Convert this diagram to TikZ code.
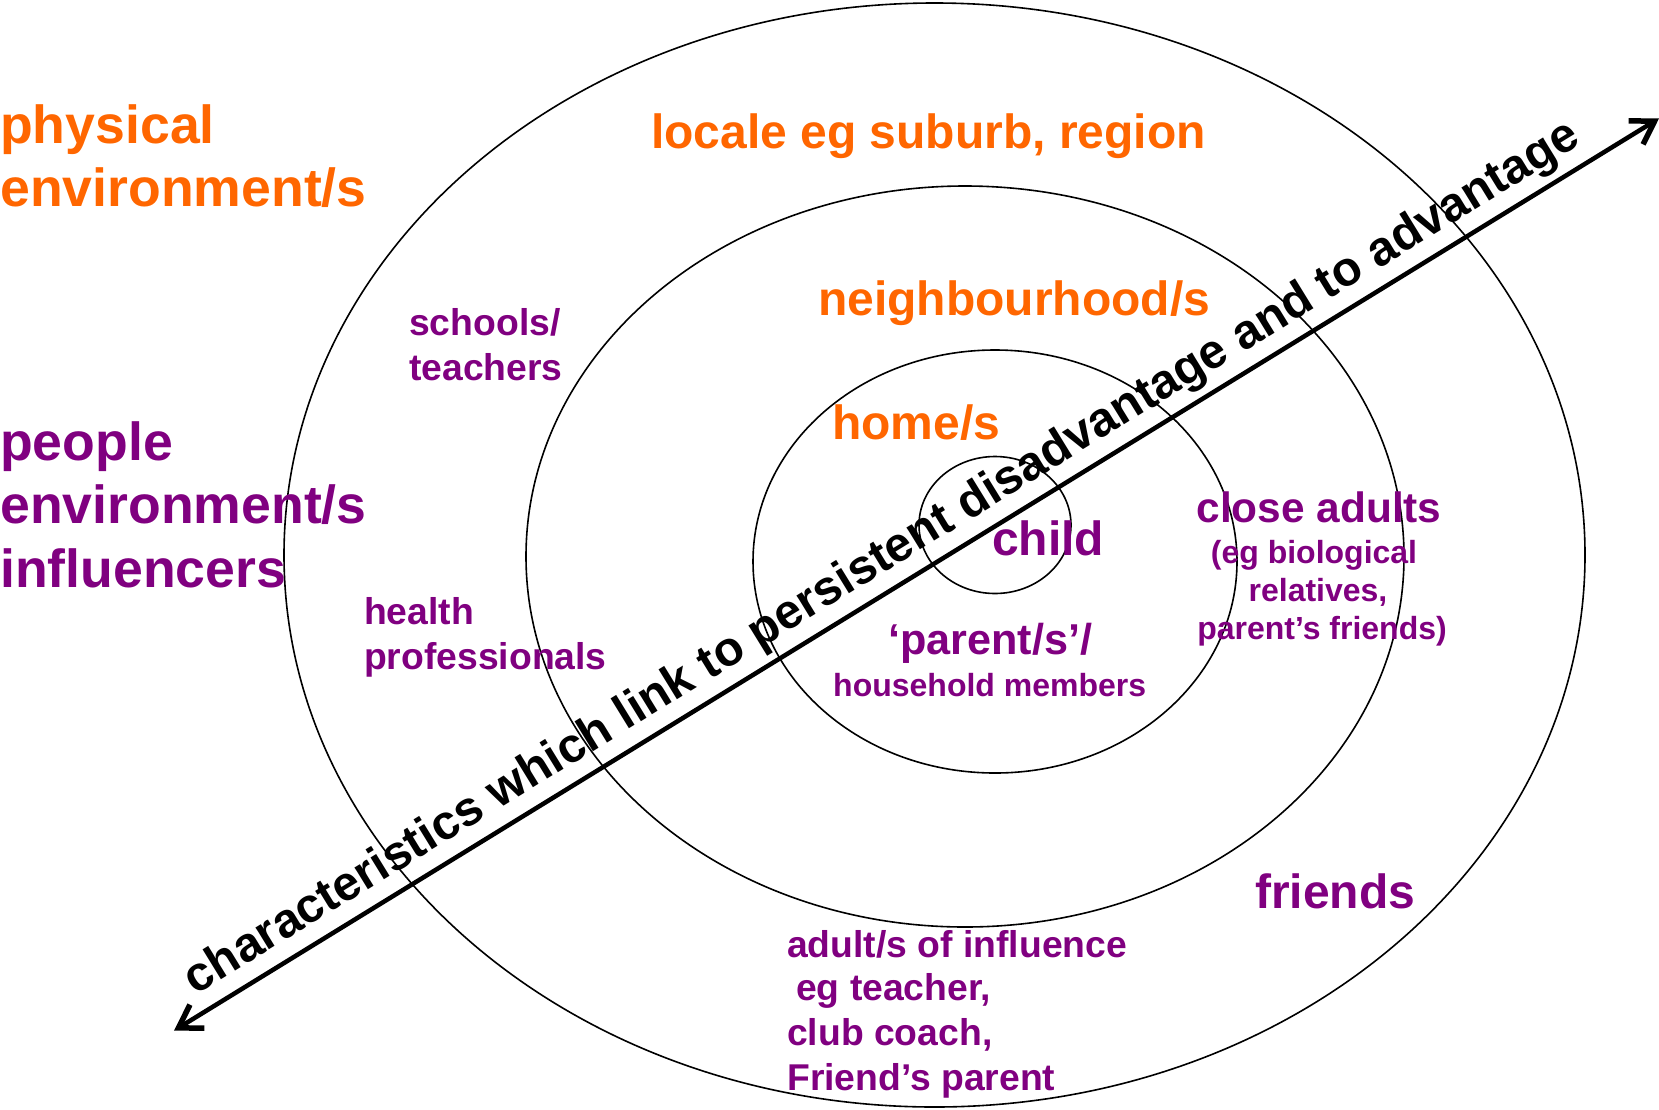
\documentclass[tikz,border=0pt]{standalone}
\usepackage{fontspec}
\setmainfont{Liberation Sans}
\usetikzlibrary{calc}
\definecolor{orng}{HTML}{FF6600}
\definecolor{purp}{HTML}{800080}
\tikzset{
  lbl/.style={anchor=base west, inner sep=0pt, font=\bfseries},
  lblc/.style={anchor=base, inner sep=0pt, font=\bfseries},
  big/.style={font=\bfseries\fontsize{53.6}{63}\selectfont},
  med/.style={font=\bfseries\fontsize{48}{57}\selectfont},
  mid/.style={font=\bfseries\fontsize{42.4}{50}\selectfont},
  pmid/.style={font=\bfseries\fontsize{43.2}{50}\selectfont},
  sml/.style={font=\bfseries\fontsize{37.3}{44}\selectfont},
  tiny/.style={font=\bfseries\fontsize{32}{38}\selectfont},
  ring/.style={draw=black, line width=1.6pt},
  axisline/.style={draw=black, line width=4.5pt},
  headline/.style={draw=black, line width=5.5pt, line join=miter},
}
\begin{document}
\begin{tikzpicture}[x=1pt,y=-1pt]
\useasboundingbox (0,0) rectangle (1659,1109);
% rings
\draw[ring] (934.5,555) ellipse [x radius=650.5, y radius=552];
\draw[ring] (965,556.5) ellipse [x radius=439, y radius=370.5];
\draw[ring] (995,561.5) ellipse [x radius=242, y radius=211.5];
\draw[ring] (995,525) ellipse [x radius=76, y radius=68.5];
% arrow
\coordinate (lo) at (178.4,1027.9);
\coordinate (hi) at (1654.6,121.1);
\draw[axisline] ($(lo)!2pt!(hi)$) -- ($(hi)!2pt!(lo)$)
  node[pos=0.488, sloped, above, inner sep=6pt, font=\bfseries\fontsize{48.4}{58}\selectfont] (axis) {characteristics which link to persistent disadvantage and to advantage};
\draw[headline] ($(lo)!26pt!32:(hi)$) -- (lo) -- ($(lo)!26pt!-32:(hi)$);
\draw[headline] ($(hi)!26pt!32:(lo)$) -- (hi) -- ($(hi)!26pt!-32:(lo)$);
% left headings
\node[lbl, big, text=orng] (phys1) at (0,143) {physical};
\node[lbl, big, text=orng] (phys2) at (0,206) {environment/s};
\node[lbl, big, text=purp] (peo1) at (0,460) {people};
\node[lbl, big, text=purp] (peo2) at (0,523) {environment/s};
\node[lbl, big, text=purp] (peo3) at (0,587) {influencers};
% orange ring labels
\node[lbl, med, text=orng] (locale) at (651,148) {locale eg suburb, region};
\node[lbl, med, text=orng] (neigh) at (818,315) {neighbourhood/s};
\node[lbl, med, text=orng] (home) at (832,439) {home/s};
% purple labels
\node[lbl, med, text=purp] (child) at (992,555) {child};
\node[lbl, pmid, text=purp] (parent) at (888,654) {‘parent/s’/};
\node[lbl, tiny, text=purp] (house) at (833,696) {household members};
\node[lbl, sml, text=purp] (sch1) at (409,335) {schools/};
\node[lbl, sml, text=purp] (sch2) at (409,380) {teachers};
\node[lbl, sml, text=purp] (hp1) at (364,624) {health};
\node[lbl, sml, text=purp] (hp2) at (364,669) {professionals};
\node[lblc, mid, text=purp] (ca1) at (1319,522) {close adults};
\node[lblc, tiny, text=purp] (ca2) at (1314,563) {(eg biological};
\node[lblc, tiny, text=purp] (ca3) at (1318,601) {relatives,};
\node[lblc, tiny, text=purp] (ca4) at (1322,639) {parent’s friends)};
\node[lbl, med, text=purp] (friends) at (1255,908) {friends};
\node[lbl, sml, text=purp] (ad1) at (787,957) {adult/s of influence};
\node[lbl, sml, text=purp] (ad2) at (796,1000) {eg teacher,};
\node[lbl, sml, text=purp] (ad3) at (787,1045) {club coach,};
\node[lbl, sml, text=purp] (ad4) at (787,1090) {Friend’s parent};
\end{tikzpicture}
\end{document}
